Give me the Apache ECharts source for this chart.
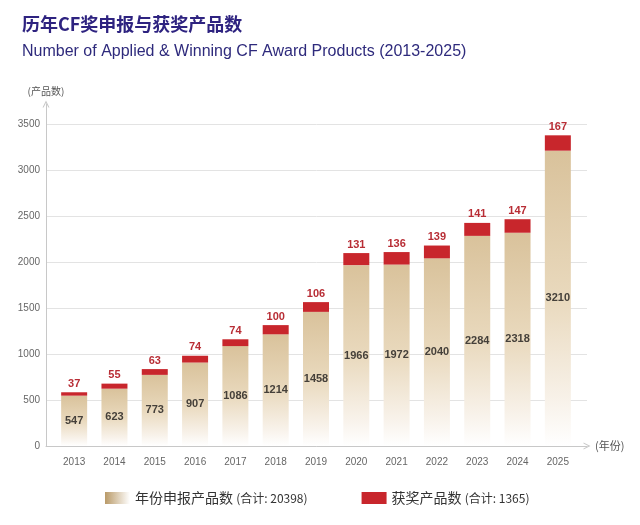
<!DOCTYPE html>
<html><head><meta charset="utf-8">
<script src="https://cdn.jsdelivr.net/npm/echarts@6/dist/echarts.min.js"></script>
<style>html,body{margin:0;padding:0;background:#fff}#c{width:640px;height:525px}</style>
</head><body><div id="c"></div>
<script>
const years = ['2013','2014','2015','2016','2017','2018','2019','2020','2021','2022','2023','2024','2025'];
const applied = [547, 623, 773, 907, 1086, 1214, 1458, 1966, 1972, 2040, 2284, 2318, 3210];
const awarded = [37, 55, 63, 74, 74, 100, 106, 131, 136, 139, 141, 147, 167];
const seriesNames = ['年份申报产品数', '获奖产品数'];
const legendTotals = ['(合计: 20398)', '(合计: 1365)'];
const yMax = 3500, yStep = 500;

const chart = echarts.init(document.getElementById('c'), null, {renderer: 'canvas'});
const G = echarts.graphic.LinearGradient;
const cjk = '"Noto Sans CJK SC", "Liberation Sans", sans-serif';
const lat = '"Liberation Sans", Arial, sans-serif';
const chevron = 'path://M0,10 L5,0 L10,10 L8.4,10 L5,3.2 L1.6,10 Z';
const axisGray = '#c8c8c8';

chart.setOption({
  backgroundColor: '#ffffff',
  animation: false,
  title: {
    text: '历年CF奖申报与获奖产品数',
    subtext: 'Number of Applied & Winning CF Award Products (2013-2025)',
    left: 17, top: 8, itemGap: 7,
    textStyle: {fontFamily: cjk, fontSize: 18, fontWeight: 'bold', color: '#2e2380', lineHeight: 22},
    subtextStyle: {fontFamily: lat, fontSize: 16, color: '#2e2a7c', lineHeight: 20}
  },
  legend: {
    left: 100, top: 486, itemWidth: 25, itemHeight: 12, itemGap: 54,
    icon: 'rect',
    data: [
      {name: seriesNames[0], itemStyle: {color: new G(0, 0, 1, 0, [{offset: 0, color: '#b99a68'}, {offset: 1, color: '#ffffff'}])}},
      {name: seriesNames[1], itemStyle: {color: '#c8262c'}}
    ],
    formatter: function (name) {
      const i = seriesNames.indexOf(name);
      return name + ' {s|' + legendTotals[i] + '}';
    },
    textStyle: {
      fontFamily: cjk, fontSize: 14, color: '#333333',
      rich: {s: {fontFamily: cjk, fontSize: 12, color: '#333333'}}
    }
  },
  grid: [
    {left: 54, right: 62, top: 124, bottom: 79},   // bars + year labels
    {left: 46, right: 53, top: 124, bottom: 79},   // grid lines + value labels
    {left: 46, right: 53, top: 104, bottom: 79}    // axis lines with arrows
  ],
  xAxis: [
    {
      gridIndex: 0, type: 'category', data: years,
      axisLine: {show: false}, axisTick: {show: false},
      axisLabel: {color: '#666666', fontSize: 10, fontFamily: lat, margin: 11}
    },
    {gridIndex: 1, type: 'value', min: 0, max: 1, show: false},
    {
      gridIndex: 2, type: 'value', min: 0, max: 1,
      name: '(年份)', nameLocation: 'end', nameGap: 8,
      nameTextStyle: {fontFamily: cjk, fontSize: 11, color: '#555555'},
      axisLine: {show: true, lineStyle: {color: axisGray, width: 1}, symbol: ['none', chevron], symbolSize: [10, 7]},
      axisTick: {show: false}, axisLabel: {show: false}, splitLine: {show: false}
    }
  ],
  yAxis: [
    {gridIndex: 0, type: 'value', min: 0, max: yMax, interval: yStep, show: false},
    {
      gridIndex: 1, type: 'value', min: 0, max: yMax, interval: yStep,
      axisLine: {show: false}, axisTick: {show: false},
      axisLabel: {color: '#666666', fontSize: 10, fontFamily: lat, margin: 6, formatter: v => String(v)},
      splitLine: {lineStyle: {color: '#e3e3e3', width: 1}}
    },
    {
      gridIndex: 2, type: 'value', min: 0, max: 1,
      name: '(产品数)', nameLocation: 'end', nameGap: 8,
      nameTextStyle: {fontFamily: cjk, fontSize: 10, color: '#555555', align: 'center'},
      axisLine: {show: true, lineStyle: {color: axisGray, width: 1}, symbol: ['none', chevron], symbolSize: [10, 7]},
      axisTick: {show: false}, axisLabel: {show: false}, splitLine: {show: false}
    }
  ],
  series: [
    {
      name: seriesNames[0],
      type: 'bar', xAxisIndex: 0, yAxisIndex: 0,
      stack: 'total',
      barWidth: 26,
      data: applied,
      itemStyle: {color: new G(0, 0, 0, 1, [
        {offset: 0, color: '#d9c29b'},
        {offset: 0.5, color: '#e9d9bd'},
        {offset: 0.85, color: '#f8f2ea'},
        {offset: 1, color: '#ffffff'}
      ])},
      label: {show: true, position: 'inside', color: '#45403a', fontWeight: 'bold', fontSize: 11, fontFamily: lat}
    },
    {
      name: seriesNames[1],
      type: 'bar', xAxisIndex: 0, yAxisIndex: 0,
      stack: 'total',
      barWidth: 26,
      data: awarded,
      itemStyle: {color: '#c8262c'},
      label: {show: true, position: 'top', distance: 3, color: '#b82d35', fontWeight: 'bold', fontSize: 11, fontFamily: lat}
    }
  ]
});
</script>
</body></html>
